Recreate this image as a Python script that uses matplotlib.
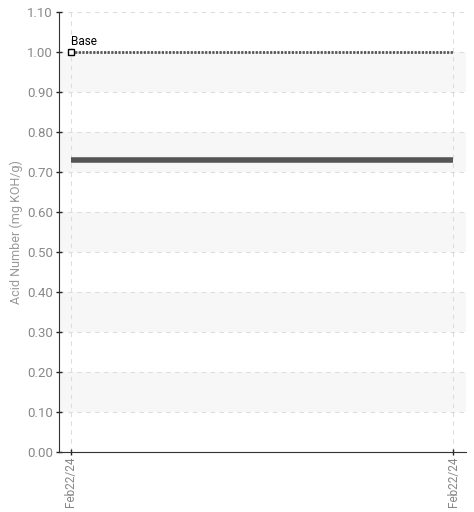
import matplotlib
matplotlib.use('Agg')
import matplotlib.pyplot as plt
import numpy as np

# данные
dates = ['Feb22/24', 'Feb22/24']
acid_values = [0.73, 0.73]
base_values = [1.00, 1.00]
y_ticks = [0.0, 0.1, 0.2, 0.3, 0.4, 0.5, 0.6, 0.7, 0.8, 0.9, 1.0, 1.1]

plt.rcParams['font.family'] = ['Roboto', 'DejaVu Sans']

fig = plt.figure(figsize=(4.74, 5.12), dpi=100)
ax = fig.add_axes([59 / 474, 60 / 512, 407 / 474, 440 / 512])

x = np.arange(len(dates))

# полосы через одну
for i in range(len(y_ticks) - 1):
    if i % 2 == 1:
        ax.axhspan(y_ticks[i], y_ticks[i + 1], color='#f7f7f7', zorder=0, lw=0)

ax.plot(x, acid_values, color='#555555', lw=4, solid_capstyle='butt', zorder=3)
ax.plot(x, base_values, color='#555555', lw=2, ls=(0, (0.8, 0.5)), zorder=3)
ax.plot([x[0]], [base_values[0]], marker='s', ms=4, mfc='white', mec='black', mew=1, zorder=4)
ax.text(x[0], base_values[0] + 0.01, 'Base', fontsize=8.5, color='black', va='bottom', ha='left')

ax.set_xlim(-12 / 382, 1 + 13 / 382)
ax.set_ylim(0, 1.1)
ax.set_yticks(y_ticks)
ax.set_yticklabels([f'{v:.2f}' for v in y_ticks])
ax.set_xticks(x)
ax.set_xticklabels(dates, rotation=90)

ax.grid(True, color='#dddddd', ls=(0, (4, 4)), lw=0.8)
ax.set_axisbelow(True)

for s in ['top', 'right']:
    ax.spines[s].set_visible(False)
ax.spines['left'].set_color('#333333')
ax.spines['bottom'].set_color('#333333')
ax.tick_params(direction='inout', length=5, width=1, color='#222222',
               labelcolor='#888888', labelsize=9.5, pad=2)
ax.tick_params(axis='x', labelsize=8.5, pad=1)
ax.set_ylabel('Acid Number (mg KOH/g)', color='#999999', fontsize=9, labelpad=3)

fig.savefig('out.png', dpi=100)
